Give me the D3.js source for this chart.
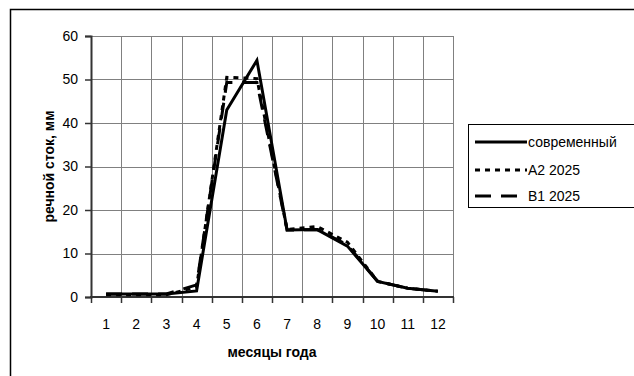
<!DOCTYPE html>
<html>
<head>
<meta charset="utf-8">
<script src="https://cdn.jsdelivr.net/npm/d3@7"></script>
<style>
  body { margin: 0; background: #fff; }
  svg { display: block; font-family: "Liberation Sans", Arial, sans-serif; }
</style>
</head>
<body>
<div id="chart"></div>
<script>
const months = ["1", "2", "3", "4", "5", "6", "7", "8", "9", "10", "11", "12"];
const modern = [0.7, 0.7, 0.7, 1.4, 43, 54.4, 15.4, 15.5, 11.7, 3.6, 2.0, 1.3];
const a2_2025 = [0.5, 0.5, 0.5, 2.3, 50.5, 50.2, 15.5, 16.2, 12.6, 3.6, 2.0, 1.3];
const b1_2025 = [0.7, 0.7, 0.7, 2.8, 49.3, 49.3, 15.4, 15.5, 12.0, 3.6, 2.0, 1.3];
const yTicks = [0, 10, 20, 30, 40, 50, 60];

const series = [
  { name: "современный", values: modern, dash: null },
  { name: "A2 2025", values: a2_2025, dash: "5,5" },
  { name: "B1 2025", values: b1_2025, dash: "16,10" }
];

const width = 634, height = 376;
const plot = { left: 91, right: 453, top: 36, bottom: 297 };

const svg = d3.select("#chart").append("svg")
  .attr("width", width)
  .attr("height", height);

// outer chart frame (cut off right/bottom as in the picture)
svg.append("rect")
  .attr("x", 10.5).attr("y", 9.5)
  .attr("width", 700).attr("height", 400)
  .attr("fill", "none").attr("stroke", "#000").attr("stroke-width", 1.5);

const x = d3.scaleBand().domain(months).range([plot.left, plot.right]);
const y = d3.scaleLinear().domain([0, 60]).range([plot.bottom, plot.top]);

// gridlines
const grid = svg.append("g").attr("stroke", "#808080").attr("stroke-width", 1);
grid.selectAll(".hg").data(yTicks.slice(1)).enter().append("line")
  .attr("x1", plot.left).attr("x2", plot.right)
  .attr("y1", d => Math.round(y(d)) + 0.5).attr("y2", d => Math.round(y(d)) + 0.5);
grid.selectAll(".vg").data(months.slice(1).concat(["end"])).enter().append("line")
  .attr("x1", (d, i) => Math.round(i < 11 ? x(d) : plot.right) + 0.5)
  .attr("x2", (d, i) => Math.round(i < 11 ? x(d) : plot.right) + 0.5)
  .attr("y1", plot.top).attr("y2", plot.bottom);

// y axis
const yAxis = svg.append("g")
  .attr("transform", `translate(${plot.left},0)`)
  .call(d3.axisLeft(y).tickValues(yTicks).tickSize(6).tickPadding(7));
yAxis.select(".domain").attr("stroke", "#333").attr("stroke-width", 2);
yAxis.selectAll(".tick line").attr("stroke", "#333").attr("stroke-width", 1.5);
yAxis.selectAll("text").attr("font-size", 14).attr("fill", "#000")
  .attr("font-family", "Liberation Sans, Arial, sans-serif");

// x axis: ticks between categories
const xAxis = svg.append("g")
  .attr("transform", `translate(0,${plot.bottom})`);
xAxis.append("line")
  .attr("x1", plot.left - 1).attr("x2", plot.right + 1)
  .attr("y1", 0).attr("y2", 0)
  .attr("stroke", "#333").attr("stroke-width", 2);
const edges = months.map(m => x(m)).concat([plot.right]);
xAxis.selectAll(".xt").data(edges).enter().append("line")
  .attr("x1", d => Math.round(d) + 0.5).attr("x2", d => Math.round(d) + 0.5)
  .attr("y1", 0).attr("y2", 6)
  .attr("stroke", "#333").attr("stroke-width", 1.5);
xAxis.selectAll(".xl").data(months).enter().append("text")
  .attr("x", d => x(d) + x.bandwidth() / 2)
  .attr("y", 32)
  .attr("text-anchor", "middle")
  .attr("font-size", 14)
  .text(d => d);

// axis titles
svg.append("text")
  .attr("x", (plot.left + plot.right) / 2).attr("y", 357)
  .attr("text-anchor", "middle")
  .attr("font-size", 14).attr("font-weight", "bold")
  .text("месяцы года");
svg.append("text")
  .attr("transform", `translate(54,${(plot.top + plot.bottom) / 2}) rotate(-90)`)
  .attr("text-anchor", "middle")
  .attr("font-size", 14).attr("font-weight", "bold")
  .text("речной сток, мм");

// lines
const line = d3.line()
  .x((d, i) => x(months[i]) + x.bandwidth() / 2)
  .y(d => y(d));

svg.append("g").selectAll("path").data(series.slice().reverse()).enter().append("path")
  .attr("d", d => line(d.values))
  .attr("fill", "none")
  .attr("stroke", "#000")
  .attr("stroke-width", 3)
  .attr("stroke-dasharray", d => d.dash);

// legend
const legend = svg.append("g");
legend.append("rect")
  .attr("x", 468.5).attr("y", 124.5)
  .attr("width", 200).attr("height", 83)
  .attr("fill", "#fff").attr("stroke", "#000").attr("stroke-width", 1);
const rows = legend.selectAll(".row").data(series).enter().append("g")
  .attr("transform", (d, i) => `translate(0,${[142, 170, 196][i]})`);
rows.append("line")
  .attr("x1", 475).attr("x2", 527)
  .attr("y1", 0).attr("y2", 0)
  .attr("stroke", "#000").attr("stroke-width", 3)
  .attr("stroke-dasharray", d => d.dash);
rows.append("text")
  .attr("x", 528).attr("y", 5)
  .attr("font-size", 14)
  .text(d => d.name);
</script>
</body>
</html>
